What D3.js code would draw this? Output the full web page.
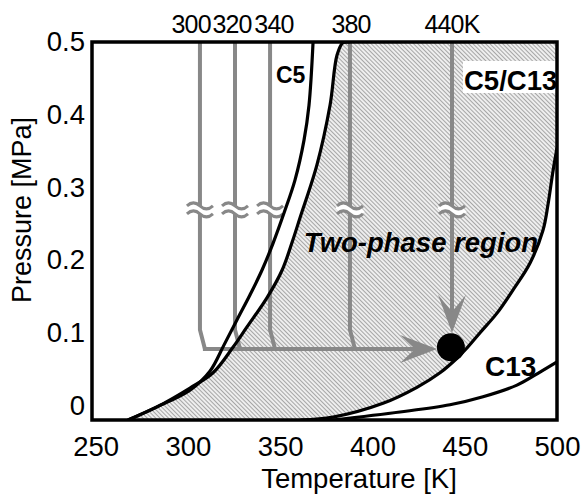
<html>
<head>
<script src="https://d3js.org/d3.v7.min.js"></script>
<style>
  body { margin: 0; background: #fff; }
  text { font-family: "Liberation Sans", Arial, sans-serif; }
</style>
</head>
<body>
<svg id="chart" width="581" height="495"></svg>
<script>
// pure C5 vapour pressure line
const tC5 = [267.5, 283.2, 301.1, 311.9, 319.5, 326.6, 333.6, 340.1, 346.1, 352.1, 358.0, 362.9, 365.6, 367.8];
const pC5 = [-0.020, -0.002, 0.021, 0.047, 0.083, 0.118, 0.152, 0.186, 0.223, 0.265, 0.310, 0.365, 0.413, 0.500];
// bubble line of the mixture (left edge of two-phase region)
const tBub = [267.5, 283.2, 301.1, 313.6, 324.4, 332.0, 342.8, 351.0, 356.9, 360.7, 369.9, 377.0, 380.8, 384.0, 387.8];
const pBub = [-0.020, -0.002, 0.024, 0.045, 0.080, 0.108, 0.148, 0.186, 0.228, 0.258, 0.331, 0.413, 0.482, 0.499, 0.500];
// dew line of the mixture (right edge)
const tDew = [361.2, 378.6, 405.7, 424.1, 436.6, 445.8, 451.2, 458.3, 467.5, 476.2, 485.4, 492.4, 495.1, 497.8, 500.0];
const pDew = [-0.020, -0.016, 0.003, 0.025, 0.045, 0.065, 0.079, 0.100, 0.127, 0.159, 0.196, 0.241, 0.276, 0.322, 0.354];
// pure C13 vapour pressure line
const tC13 = [378.6, 414.9, 442.0, 459.9, 478.3, 490.8, 500.0];
const pC13 = [-0.020, -0.009, 0.001, 0.012, 0.028, 0.046, 0.060];

// isotherm paths (gray)
const isoT = [306.5, 325.5, 344.5, 387.8, 443.1];
const isoLabels = ["300", "320", "340", "380", "440K"];
const isoLabelT = [301.7, 323.9, 346.6, 388.4, 443.1];
const kneeTop = 0.104, kneeBottom = 0.0777, kneeShift = 2.7;
const breakP = 0.269;
const arrowTipT = 435.0, arrowTipP = 0.100;
const pointT = 442.5, pointP = 0.080;

const xTicks = [250, 300, 350, 400, 450, 500];
const yTicks = [0, 0.1, 0.2, 0.3, 0.4, 0.5];

const gray = "#888";
const svg = d3.select("#chart");
const mLeft = 92, mRight = 557, mTop = 42, mBottom = 420;

const x = d3.scaleLinear().domain([248, 500]).range([mLeft, mRight]);
const y = d3.scaleLinear().domain([-0.02, 0.5]).range([mBottom, mTop]);

const defs = svg.append("defs");
const pat = defs.append("pattern").attr("id", "hatch")
    .attr("patternUnits", "userSpaceOnUse").attr("width", 3).attr("height", 3)
    .attr("patternTransform", "rotate(-45)");
pat.append("rect").attr("width", 3).attr("height", 3).attr("fill", "#eeeeee");
pat.append("line").attr("x1", 0.5).attr("y1", 0).attr("x2", 0.5).attr("y2", 3)
    .attr("stroke", "#a6a6a6").attr("stroke-width", 1);
defs.append("clipPath").attr("id", "plot").append("rect")
    .attr("x", mLeft).attr("y", mTop).attr("width", mRight - mLeft).attr("height", mBottom - mTop);

const line = d3.line().x(d => x(d[0])).y(d => y(d[1])).curve(d3.curveCatmullRom.alpha(0.5));
const zip = (a, b) => a.map((v, i) => [v, b[i]]);

const g = svg.append("g").attr("clip-path", "url(#plot)");

// two-phase region
const bub = zip(tBub, pBub), dew = zip(tDew, pDew);
const regionPath = line(bub)
    + "L" + x(500) + "," + y(0.5)
    + "L" + x(500) + "," + y(pDew[pDew.length - 1])
    + line(dew.slice().reverse()).replace(/^M/, "L")
    + "Z";
g.append("path").attr("d", regionPath).attr("fill", "url(#hatch)");

// isotherm lines
isoT.forEach((t, i) => {
  let d;
  if (i < isoT.length - 1) {
    d = "M" + x(t) + "," + y(0.5) + "L" + x(t) + "," + y(kneeTop) + "L" + x(t + kneeShift) + "," + y(kneeBottom);
  } else {
    d = "M" + x(t) + "," + y(0.5) + "L" + x(t) + "," + (y(arrowTipP) - 20);
  }
  g.append("path").attr("d", d).attr("fill", "none").attr("stroke", gray).attr("stroke-width", 4);
});
g.append("line")
    .attr("x1", x(isoT[0] + kneeShift) - 2).attr("y1", y(kneeBottom))
    .attr("x2", x(arrowTipT) - 20).attr("y2", y(kneeBottom))
    .attr("stroke", gray).attr("stroke-width", 4);

// arrowheads
const hx = x(arrowTipT), hy = y(kneeBottom);
g.append("path")
    .attr("d", `M${hx},${hy}L${hx - 37},${hy - 14}L${hx - 22},${hy}L${hx - 37},${hy + 14}Z`)
    .attr("fill", gray);
const vx = x(isoT[4]), vy = y(arrowTipP);
g.append("path")
    .attr("d", `M${vx},${vy}L${vx - 14},${vy - 38}L${vx},${vy - 21}L${vx + 14},${vy - 38}Z`)
    .attr("fill", gray);

// break marks
const wave = (cx, cy) => `M${cx - 13},${cy}Q${cx - 6.5},${cy - 6} ${cx},${cy}T${cx + 13},${cy}`;
isoT.forEach(t => {
  const cx = x(t), cy = y(breakP);
  g.append("path").attr("d", wave(cx, cy)).attr("fill", "none").attr("stroke", "#fff").attr("stroke-width", 5);
  g.append("path").attr("d", wave(cx, cy - 4)).attr("fill", "none").attr("stroke", gray).attr("stroke-width", 3);
  g.append("path").attr("d", wave(cx, cy + 4)).attr("fill", "none").attr("stroke", gray).attr("stroke-width", 3);
});

// black curves
[[tC5, pC5], [tBub, pBub], [tDew, pDew], [tC13, pC13]].forEach(([t, p]) => {
  g.append("path").attr("d", line(zip(t, p))).attr("fill", "none")
      .attr("stroke", "#000").attr("stroke-width", 3.2);
});

// state point
g.append("circle").attr("cx", x(pointT)).attr("cy", y(pointP)).attr("r", 14).attr("fill", "#000");

// labels inside
svg.append("text").attr("x", 276).attr("y", 83).attr("font-size", 23).attr("font-weight", "bold").text("C5");
svg.append("rect").attr("x", 463).attr("y", 61).attr("width", 94).attr("height", 32).attr("fill", "#fff");
svg.append("text").attr("x", 464).attr("y", 90).attr("font-size", 27.5).attr("font-weight", "bold").text("C5/C13");
svg.append("text").attr("x", 485).attr("y", 376).attr("font-size", 28).attr("font-weight", "bold").text("C13");
svg.append("text").attr("x", 421).attr("y", 252).attr("text-anchor", "middle")
    .attr("font-size", 27.5).attr("font-weight", "bold").attr("font-style", "italic").text("Two-phase region");

// isotherm labels on top
isoLabels.forEach((s, i) => {
  svg.append("text").attr("x", x(isoLabelT[i])).attr("y", 33).attr("text-anchor", "middle")
      .attr("font-size", 25).attr("letter-spacing", -0.8).text(s);
});

// axes
const xAxis = svg.append("g").attr("transform", `translate(0,${mBottom})`)
    .call(d3.axisBottom(x).tickValues(xTicks).tickSize(0).tickPadding(16));
const yAxis = svg.append("g").attr("transform", `translate(${mLeft},0)`)
    .call(d3.axisLeft(y).tickValues(yTicks).tickSize(0).tickPadding(7)
      .tickFormat(d => d === 0 ? "0" : d.toFixed(1)));
[xAxis, yAxis].forEach(a => {
  a.select(".domain").remove();
  a.selectAll("text").attr("font-size", 27.5).attr("fill", "#000")
      .attr("font-family", "'Liberation Sans', Arial, sans-serif");
});

// frame
svg.append("rect").attr("x", mLeft).attr("y", mTop).attr("width", mRight - mLeft).attr("height", mBottom - mTop)
    .attr("fill", "none").attr("stroke", "#000").attr("stroke-width", 3.5);

// axis titles
svg.append("text").attr("x", 359).attr("y", 488).attr("text-anchor", "middle")
    .attr("font-size", 27.5).text("Temperature [K]");
svg.append("text").attr("transform", "translate(31,210) rotate(-90)").attr("text-anchor", "middle")
    .attr("font-size", 27).text("Pressure [MPa]");
</script>
</body>
</html>
